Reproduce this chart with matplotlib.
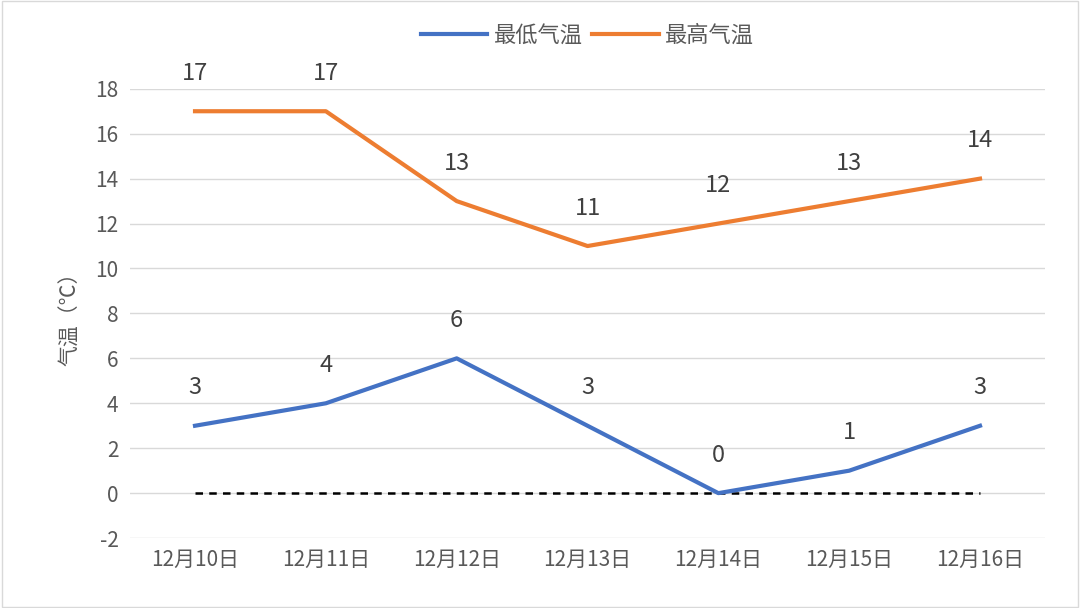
import matplotlib.pyplot as plt

plt.rcParams['font.family'] = ['Noto Sans CJK SC', 'DejaVu Sans']
plt.rcParams['axes.unicode_minus'] = False

dates = ['12月10日', '12月11日', '12月12日', '12月13日', '12月14日', '12月15日', '12月16日']
low = [3, 4, 6, 3, 0, 1, 3]
high = [17, 17, 13, 11, 12, 13, 14]
zero = [0] * len(dates)

fig = plt.figure(figsize=(10.8, 6.08), dpi=100)
ax = fig.add_axes([0.12, 0.115, 0.848, 0.739])

x = range(len(dates))
ax.plot(x, zero, color='black', lw=1.8, ls=(0, (3, 2.5)), zorder=2)
ax.plot(x, low, color='#4472C4', lw=3, label='最低气温', zorder=3)
ax.plot(x, high, color='#ED7D31', lw=3, label='最高气温', zorder=3)

for i in x:
    ax.annotate(str(low[i]), (i, low[i]), xytext=(0, 19), textcoords='offset points',
                ha='center', va='bottom', fontsize=17, color='#404040')
    ax.annotate(str(high[i]), (i, high[i]), xytext=(0, 19), textcoords='offset points',
                ha='center', va='bottom', fontsize=17, color='#404040')

ax.set_xlim(-0.5, len(dates) - 0.5)
ax.set_ylim(-2, 18)
ax.set_yticks(range(-2, 19, 2))
ax.set_xticks(list(x))
ax.set_xticklabels(dates)
ax.tick_params(length=0, labelsize=15, colors='#595959', pad=8)
ax.grid(axis='y', color='#d9d9d9', lw=1)
ax.set_axisbelow(True)
for s in ax.spines.values():
    s.set_visible(False)
ax.set_ylabel('气温（℃）', fontsize=15, color='#595959', labelpad=10)

ax.legend(loc='lower center', bbox_to_anchor=(0.5, 1.05), ncol=2, frameon=False,
          fontsize=16, labelcolor='#595959', handlelength=3, columnspacing=0.4,
          handletextpad=0.3)

fig.patches.append(plt.Rectangle((0.002, 0.002), 0.996, 0.996, transform=fig.transFigure,
                                 fill=False, edgecolor='#d9d9d9', lw=1))
fig.savefig('out.png')
